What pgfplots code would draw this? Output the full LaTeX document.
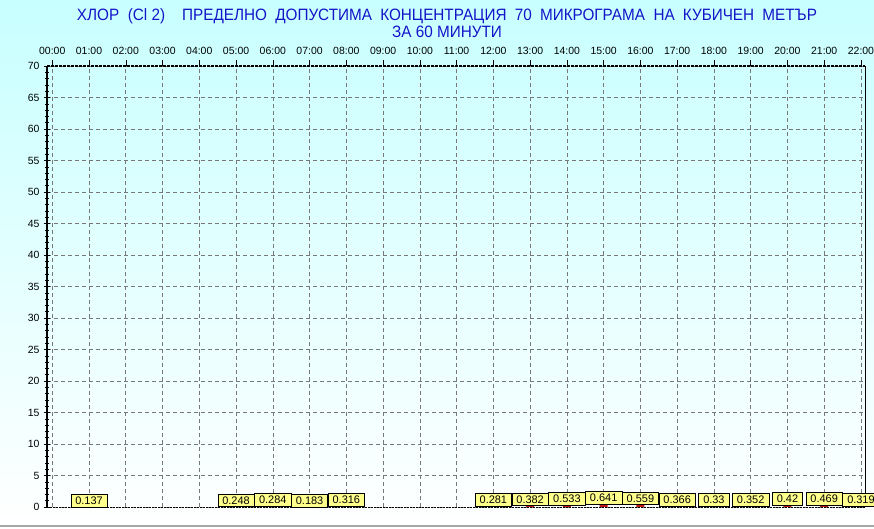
\documentclass[border=0pt]{standalone}
\usepackage{fontspec}
\setmainfont{Liberation Sans}
\newfontfamily\titlefont[FakeStretch=0.93]{Liberation Sans}
\usepackage{pgfplots}
\pgfplotsset{compat=1.18}
\usepackage{pgfplotstable}

\definecolor{titleblue}{RGB}{20,20,200}
\definecolor{bgcyan}{RGB}{200,255,255}
\definecolor{gridgray}{RGB}{120,120,120}
\definecolor{boxyellow}{RGB}{255,255,140}
\definecolor{barred}{RGB}{190,20,20}

\pgfplotstableread{
hour value label
1  0.137 0.137
5  0.248 0.248
6  0.284 0.284
7  0.183 0.183
8  0.316 0.316
12 0.281 0.281
13 0.382 0.382
14 0.533 0.533
15 0.641 0.641
16 0.559 0.559
17 0.366 0.366
18 0.33  0.33
19 0.352 0.352
20 0.42  0.42
21 0.469 0.469
22 0.319 0.319
}\chlor

\begin{document}
\begin{tikzpicture}
  % background
  \useasboundingbox (0bp,0bp) rectangle (874bp,529bp);
  \shade[top color=bgcyan, bottom color=white] (0bp,0bp) rectangle (874bp,529bp);
  \draw[gray!70, line width=1.2bp] (0bp,3bp) -- (874bp,3bp);

  % title
  \node[titleblue, font=\titlefont\fontsize{16.5}{18}\selectfont] at (447bp,513bp) {ХЛОР\ \ (Cl 2)\ \ \ \ ПРЕДЕЛНО\hspace{4bp} ДОПУСТИМА\hspace{4bp} КОНЦЕНТРАЦИЯ\hspace{4bp} 70\hspace{4bp} МИКРОГРАМА\ \ НА\hspace{4bp} КУБИЧЕН\hspace{4bp} МЕТЪР};
  \node[titleblue, font=\titlefont\fontsize{16.5}{18}\selectfont] at (447bp,497bp) {ЗА 60 МИНУТИ};

  \begin{axis}[
    at={(47bp,22bp)}, anchor=south west,
    scale only axis, width=818bp, height=441bp,
    xmin=-0.143, xmax=22.11, ymin=0, ymax=70,
    xtick={0,...,22},
    xticklabels={00:00,01:00,02:00,03:00,04:00,05:00,06:00,07:00,08:00,09:00,10:00,11:00,12:00,13:00,14:00,15:00,16:00,17:00,18:00,19:00,20:00,21:00,22:00},
    xticklabel pos=right, xtick pos=right,
    ytick pos=left,
    ytick={0,5,...,70},
    minor y tick num=4,
    tick align=center,
    major tick length=6bp, minor tick length=3bp,
    tick style={black, line width=0.5bp},
    every tick label/.append style={font=\fontsize{10.5}{12}\selectfont},
    xticklabel style={yshift=2bp},
    yticklabel style={xshift=-1bp},
    /pgf/number format/assume math mode=true,
    grid=major,
    major grid style={gridgray, line width=0.6bp, dash pattern=on 4bp off 3bp},
    axis line style={draw=none},
    clip=false,
    ybar, bar width=8bp,
    nodes near coords,
    point meta=explicit symbolic,
    every node near coord/.append style={
      anchor=south, yshift=-1.5bp, fill=boxyellow, draw=black, line width=0.6bp,
      inner xsep=4.5bp, inner ysep=2.5bp, text=black,
      font=\fontsize{11}{12}\selectfont},
  ]
    % frame
    \draw[black, line width=1bp] (rel axis cs:1,0) -- (rel axis cs:1,1);
    \draw[black, line width=0.8bp, dash pattern=on 2bp off 1bp] (rel axis cs:0,0) -- (rel axis cs:1,0);
    \draw[black, line width=1.6bp, dash pattern=on 3bp off 1bp] (rel axis cs:0,1) -- (rel axis cs:1,1);
    \draw[black, line width=2.5bp] (rel axis cs:0,0) -- (rel axis cs:0,1);
    \addplot[fill=barred, draw=none] table[x=hour, y=value, meta=label] {\chlor};
  \end{axis}
\end{tikzpicture}
\end{document}
